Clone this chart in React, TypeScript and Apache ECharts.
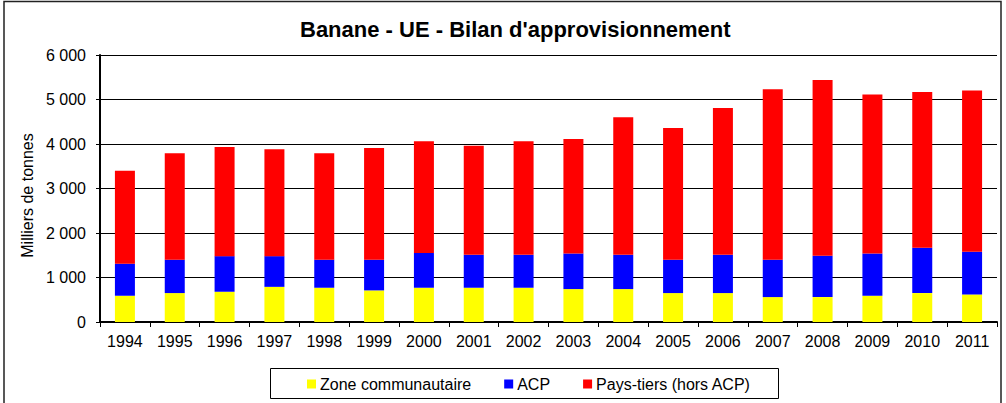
import React, { useEffect, useRef } from "react";
import * as echarts from "echarts";

const years = ["1994","1995","1996","1997","1998","1999","2000","2001","2002","2003","2004","2005","2006","2007","2008","2009","2010","2011"];
const zoneCommunautaire = [590,650,680,790,770,710,770,770,770,740,740,650,650,560,560,590,650,620];
const acp = [720,750,800,690,630,690,780,740,740,800,770,750,860,840,930,950,1020,960];
const paysTiers = [2090,2390,2450,2400,2390,2510,2510,2450,2550,2570,3090,2960,3300,3830,3950,3570,3500,3620];
const yTicks = { min: 0, max: 6000, interval: 1000 };

const FONT = "'Liberation Sans', Arial, sans-serif";

export default function App() {
  const ref = useRef<HTMLDivElement>(null);
  useEffect(() => {
    if (!ref.current) return;
    const chart = echarts.init(ref.current, null, { renderer: "svg" });
    chart.setOption({
      animation: false,
      backgroundColor: "#ffffff",
      textStyle: { fontFamily: FONT, color: "#000" },
      title: {
        text: "Banane - UE - Bilan d'approvisionnement",
        left: 300,
        top: 18,
        padding: 0,
        textStyle: { fontFamily: FONT, fontSize: 22, fontWeight: "bold", color: "#000" },
      },
      graphic: [
        {
          type: "rect",
          shape: { x: 4, y: 1.5, width: 997, height: 430 },
          style: { fill: "none", stroke: "#222", lineWidth: 1.5 },
          silent: true,
          z: -1,
        },
        {
          type: "rect",
          shape: { x: 270.5, y: 368.5, width: 508, height: 30 },
          style: { fill: "none", stroke: "#000", lineWidth: 1 },
          silent: true,
        },
      ],
      legend: {
        left: 307,
        top: 376,
        padding: 0,
        itemWidth: 9,
        itemHeight: 9,
        itemGap: 33,
        icon: "rect",
        textStyle: { fontFamily: FONT, fontSize: 16, color: "#000", padding: [0, 0, 0, -1] },
        data: ["Zone communautaire", "ACP", "Pays-tiers (hors ACP)"],
      },
      grid: { left: 100, right: 9, top: 55, bottom: 81, containLabel: false },
      xAxis: {
        type: "category",
        data: years,
        boundaryGap: true,
        axisLine: { lineStyle: { color: "#000", width: 2 } },
        axisTick: { show: true, length: 5, lineStyle: { color: "#000", width: 1 }, alignWithLabel: false },
        axisLabel: { fontFamily: FONT, fontSize: 16, color: "#000", margin: 11 },
      },
      yAxis: {
        type: "value",
        min: yTicks.min,
        max: yTicks.max,
        interval: yTicks.interval,
        name: "Milliers de tonnes",
        nameLocation: "middle",
        nameGap: 64,
        nameRotate: 90,
        nameTextStyle: { fontFamily: FONT, fontSize: 16, color: "#000", padding: [0, 14, 0, 0] },
        axisLine: { show: true, lineStyle: { color: "#000", width: 2 } },
        axisTick: { show: true, length: 4, lineStyle: { color: "#000", width: 1 } },
        axisLabel: {
          fontFamily: FONT,
          fontSize: 16,
          color: "#000",
          margin: 14,
          formatter: (v: number) => String(v).replace(/\B(?=(\d{3})+(?!\d))/g, " "),
        },
        splitLine: { show: true, lineStyle: { color: "#000", width: 1 } },
      },
      series: [
        { name: "Zone communautaire", type: "bar", stack: "total", data: zoneCommunautaire, barWidth: 20, itemStyle: { color: "#ffff00" } },
        { name: "ACP", type: "bar", stack: "total", data: acp, barWidth: 20, itemStyle: { color: "#0000ff" } },
        { name: "Pays-tiers (hors ACP)", type: "bar", stack: "total", data: paysTiers, barWidth: 20, itemStyle: { color: "#ff0000" } },
      ],
    });
    return () => chart.dispose();
  }, []);
  return <div ref={ref} style={{ position: "absolute", left: 0, top: 0, width: 1006, height: 403 }} />;
}
